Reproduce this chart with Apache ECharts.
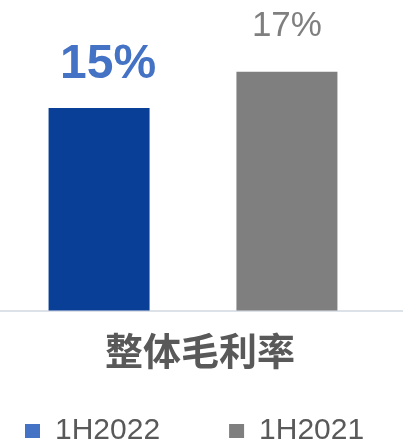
<!DOCTYPE html>
<html>
<head>
<meta charset="utf-8">
<script src="https://cdn.jsdelivr.net/npm/echarts@6/dist/echarts.min.js"></script>
<style>
html,body{margin:0;padding:0;background:#fff;}
#chart{width:403px;height:443px;}
</style>
</head>
<body>
<div id="chart"></div>
<script>
var categories = ['整体毛利率'];
var seriesNames = ['1H2022', '1H2021'];
var values2022 = [14.6];
var values2021 = [17.2];

var chart = echarts.init(document.getElementById('chart'), null, {renderer: 'canvas'});
var fontLatin = '"Liberation Sans", Arial, sans-serif';
chart.setOption({
  animation: false,
  backgroundColor: '#ffffff',
  grid: [
    {left: 0, right: 17, top: 33, bottom: 132.5},
    {left: 0, right: 0, top: 33, bottom: 132.5}
  ],
  legend: {
    data: [
      {name: seriesNames[0], itemStyle: {color: '#4472C4'}},
      {name: seriesNames[1], itemStyle: {color: '#7F7F7F'}}
    ],
    left: 20,
    top: 411,
    itemWidth: 15,
    itemHeight: 14,
    itemGap: 69,
    icon: 'rect',
    textStyle: {fontSize: 30, color: '#595959', fontFamily: fontLatin, padding: [0, 0, 0, 10]}
  },
  xAxis: [
    {
      type: 'category', gridIndex: 0,
      data: categories,
      axisLine: {show: false},
      axisTick: {show: false},
      axisLabel: {
        fontSize: 38, fontWeight: 'bold', color: '#595959',
        fontFamily: '"Noto Sans CJK SC", sans-serif',
        margin: 21, padding: [0, 0, 0, 14]
      }
    },
    {
      type: 'category', gridIndex: 1,
      data: categories,
      axisLine: {show: true, lineStyle: {color: '#dde1e8', width: 2}},
      axisTick: {show: false},
      axisLabel: {show: false}
    }
  ],
  yAxis: [
    {type: 'value', gridIndex: 0, min: 0, max: 20, show: false, splitLine: {show: false}},
    {type: 'value', gridIndex: 1, min: 0, max: 20, show: false, splitLine: {show: false}}
  ],
  series: [
    {
      name: seriesNames[0], type: 'bar', data: values2022,
      barWidth: 101, barGap: '86%',
      itemStyle: {color: '#0A3F97'},
      label: {
        show: true, position: 'top', distance: 19, offset: [9, 0],
        formatter: function (p) { return Math.round(p.value) + '%'; },
        fontSize: 48, fontWeight: 'bold', color: '#4472C4', fontFamily: fontLatin
      }
    },
    {
      name: seriesNames[1], type: 'bar', data: values2021,
      barWidth: 101,
      itemStyle: {color: '#7F7F7F'},
      label: {
        show: true, position: 'top', distance: 28,
        formatter: function (p) { return Math.round(p.value) + '%'; },
        fontSize: 35, color: '#7F7F7F', fontFamily: fontLatin
      }
    }
  ]
});
</script>
</body>
</html>
